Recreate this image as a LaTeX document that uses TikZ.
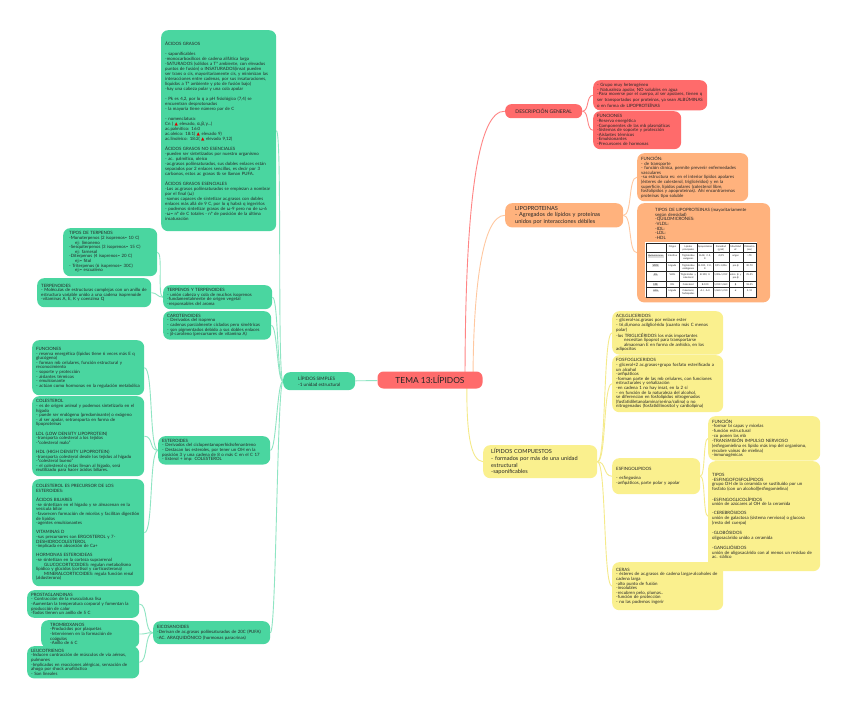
\documentclass[tikz,border=0pt]{standalone}
\usepackage{fontspec}
\setmainfont{Lato}
\newfontfamily\dejavu{DejaVu Sans}
\usepackage{xcolor}
\usepackage{array}
\usepackage{tikz}
\usetikzlibrary{positioning, backgrounds}

\definecolor{mapgreen}{HTML}{4AD6A0}
\definecolor{greenline}{HTML}{8FE5C3}
\definecolor{mapred}{HTML}{FF6B6B}
\definecolor{redline}{HTML}{FF8585}
\definecolor{maporange}{HTML}{FFB27D}
\definecolor{orangeline}{HTML}{FFC8A0}
\definecolor{mapyellow}{HTML}{FAF08E}
\definecolor{yellowline}{HTML}{F5EA8A}

\newcommand{\gk}[1]{{\dejavu #1}}
\newcommand{\tridelta}{{\dejavu\color{red!85!black}▲}}
\newcolumntype{C}[1]{>{\centering\arraybackslash}p{#1}}
\hyphenpenalty=10000

\begin{document}
\begin{tikzpicture}[
  x=1pt, y=-1pt,
  every node/.style={text=black!85},
  base/.style={
    rounded corners=7pt,
    anchor=north west,
    align=left,
    inner xsep=4pt,
    inner ysep=3pt,
    font=\fontsize{4.4}{4.6}\selectfont
  },
  gbox/.style={base, fill=mapgreen},
  rbox/.style={base, fill=mapred},
  obox/.style={base, fill=maporange},
  ybox/.style={base, fill=mapyellow},
  gline/.style={draw=greenline, line width=0.9pt},
  rline/.style={draw=redline, line width=0.9pt},
  oline/.style={draw=orangeline, line width=0.9pt},
  yline/.style={draw=yellowline, line width=0.9pt}
]
\useasboundingbox (0,0) rectangle (848,709);

% Central topic
\node[rbox, anchor=center, rounded corners=6pt, minimum width=105pt, minimum height=17pt,
  align=center, font=\fontsize{8.4}{9}\selectfont] (tema) at (430,380) {TEMA 13:LÍPIDOS};

% Left branch: simple lipids
\node[gbox, minimum width=72pt, minimum height=18pt, inner xsep=11pt,
  font=\fontsize{4.6}{5.6}\selectfont] (lsimples) at (283,372)
{LÍPIDOS SIMPLES\\-1 unidad estructural};

\node[gbox, text width=107pt, minimum height=201pt, font=\fontsize{4.4}{5.0}\selectfont] (acidos) at (161,30) {%
ÁCIDOS GRASOS\\[5pt]
- saponificables\\
-monocarboxílicos de cadena alifática larga\\
-SATURADOS (sólidos a Tª ambiente, con elevados puntos de fusión) o INSATURADOS(insat pueden ser trans o cis, mayoritariamente cis, y minimizan las interacciones entre cadenas, por sus insaturaciones, líquidos a Tª ambiente y pto de fusión bajo)\\
-hay una cabeza polar y una cola apolar\\[5pt]
- Pk es 4,2, por lo q a pH fisiológico (7,4) se encuentran desprotonados\\
- la mayoría tiene número par de C\\[5pt]
- nomenclatura:\\
Cn ( \tridelta{} elevado, \gk{α,β,γ}...)\\
ac.palmítico: 16:0\\
ac.oleico: 18:1( \tridelta{} elevado 9)\\
ac.linoleico: 18:2( \tridelta{} elevado 9,12)\\[5pt]
ÁCIDOS GRASOS NO ESENCIALES\\
-pueden ser sintetizados por nuestro organismo\\
- ac. palmítico, oleico\\
-ac.grasos poliinsaturados, sus dobles enlaces están separados por 2 enlaces sencillos, es decir por 3 carbonos, estos ac grasos tb se llaman PUFA.\\[5pt]
ÁCIDOS GRASOS ESENCIALES\\
-Los ac.grasos poliinsaturados se empiezan a nombrar por el final (\gk{ω})\\
-somos capaces de sintetizar ac.grasos con dobles enlaces más allá de 9 C, por lo q habrá q ingerirlos\\
- podemos sintetizar grasos de \gk{ω}-9 pero no de \gk{ω}-6\\
-\gk{ω}= nº de C totales - nº de posición de la última insaturación};

\node[gbox, text width=101pt, minimum height=24pt] (terpenos) at (163,285)
{TERPENOS Y TERPENOIDES\\
- unión cabeza y cola de muchos isoprenos\\
-fundamentalmente de origen vegetal\\
-responsables del aroma};

\node[gbox, text width=100pt, minimum height=28pt] (carotenoides) at (163,311)
{CAROTENOIDES\\
- Derivados del isopreno\\
- cadenas parcialmente ciclados pero simétricas\\
- son pigmentados debido a sus dobles enlaces\\
- \gk{β}-caroteno (precursores de vitamina A)};

\node[gbox, text width=104pt, minimum height=28pt] (esteroides) at (158,436)
{ESTEROIDES\\
- Derivados del ciclopentanoperhidrofenantreno\\
- Destacan los esteroles, por tener un OH en la posición 3 y una cadena de 8 o más C en el C 17\\
- Esterol + imp: COLESTEROL};

\node[gbox, text width=109pt, minimum height=23pt] (eicosanoides) at (153,621)
{EICOSANOIDES\\
-Derivan de ac.grasos poliinsaturados de 20C (PUFA)\\
-AC. ARAQUIDÓNICO (hormonas paracrinas)};

% Terpenes
\node[gbox, text width=82pt, minimum height=48pt, inner xsep=6pt] (tiposterp) at (63,228)
{TIPOS DE TERPENOS\\
-Monoterpenos (2 isoprenos= 10 C)\\
\hspace*{6pt}ej: limoneno\\
-Sesquiterpenos (3 isoprenos= 15 C)\\
\hspace*{6pt}ej: farnesol\\
-Diterpenos (4 isoprenos= 20 C)\\
\hspace*{6pt}ej:= fitol\\
- Triterpenos (6 isoprenos= 30C)\\
\hspace*{6pt}ej:= escualeno};

\node[gbox, text width=106pt, minimum height=29pt] (terpenoides) at (37,278)
{TERPENOIDES\\
- Moléculas de estructuras complejas con un anillo de estructura variable unido a una cadena isoprenoide\\
-vitaminas A, E, K y coenzima Q};

% Steroids
\node[gbox, text width=104pt, minimum height=55pt] (funciones) at (32,340)
{FUNCIONES\\
- reserva energética (lípidos tiene 6 veces más E q glucógeno)\\
- forman mb celulares, función estructural y reconocimiento\\
- soporte y protección\\
- aislantes térmicos\\
- emulsionante\\
- actúan como hormonas en la regulación metabólica};

\node[gbox, text width=104pt, minimum height=80pt] (colesterol) at (32,396)
{COLESTEROL\\
- es de origen animal y podemos sintetizarlo en el hígado\\
- puede ser endógeno (predominante) o exógeno\\
- al ser apolar, setransporta en forma de lipoproteínas\\[4.6pt]
LDL (LOW DENSITY LIPOPROTEIN)\\
-transporta colesterol a los tejidos\\
-“colesterol malo”\\[4.6pt]
HDL (HIGH DENSITY LIPOPROTEIN)\\
-transporta colesterol desde los tejidos al hígado\\
-“colesterol bueno”\\
- el colesterol q éstas llevan al hígado, será reutilizado para hacer ácidos biliares.};

\node[gbox, text width=104pt, minimum height=107pt] (precursor) at (32,479)
{COLESTEROL ES PRECURSOR DE LOS ESTEROIDES:\\[4.6pt]
ÁCIDOS BILIARES\\
-se sintetizan en el hígado y se almacenan en la vesícula biliar\\
-favorecen formación de micelas y facilitan digestión de lípidos\\
-agentes emulsionantes\\[4.6pt]
VITAMINAS D\\
-sus precursores son ERGOSTEROL y 7-DESHIDROCOLESTEROL\\
-implicada en absorción de Ca+\\[4.6pt]
HORMONAS ESTEROIDEAS\\
-se sintetizan en la corteza suprarrenal\\
\hspace*{8pt}GLUCOCORTICOIDES: regulan metabolismo lipídico y glúcidos (cortisol y corticosterona)\\
\hspace*{8pt}MINERALCORTICOIDES: regula función renal (aldosterona)};

% Eicosanoids
\node[gbox, text width=104pt, minimum height=27pt] (prosta) at (27,590)
{PROSTAGLANDINAS\\
- Contracción de la musculatura lisa\\
-Aumentan la temperatura corporal y fomentan la producción de calor\\
-Todos tienen un anillo de 5 C};

\node[gbox, text width=80pt, minimum height=23pt, inner xsep=9pt] (trombo) at (41,620)
{TROMBOXANOS\\
-Producidos por plaquetas\\
-Intervienen en la formación de coágulos\\
-Anillo de 6 C};

\node[gbox, text width=104pt, minimum height=31pt] (leuco) at (27,646)
{LEUCOTRIENOS\\
-Inducen contracción de músculos de vía aéreas, pulmones\\
-Implicados en reacciones alérgicas, sensación de ahogo por shock anafiláctico\\
- Son lineales};

% Right branch: general description
\node[rbox, rounded corners=6pt, minimum width=77pt, minimum height=14pt, align=center,
  font=\fontsize{5}{6}\selectfont] (descgen) at (505,104) {DESCRIPCIÓN GENERAL};

\node[rbox, text width=106pt, minimum height=29pt] (dbox) at (593,80)
{- Grupo muy heterogéneo\\
- Naturaleza apolar, NO solubles en agua\\
-Para moverse por el cuerpo, al ser apolares, tienen q ser transportados por proteínas, ya sean ALBÚMINAS o en forma de LIPOPROTEÍNAS};

\node[rbox, text width=80pt, minimum height=38pt] (dfunc) at (593,111)
{FUNCIONES\\
-Reserva energética\\
-Componentes de las mb plasmáticas\\
-Sistemas de soporte y protección\\
-Aislantes térmicos\\
-Emulsionantes\\
-Precursores de hormonas};

% Right branch: lipoproteins
\node[obox, text width=98pt, minimum height=24pt, inner xsep=10pt,
  font=\fontsize{5.6}{6.6}\selectfont] (lipoprot) at (505,203)
{LIPOPROTEINAS\\
- Agregados de lípidos y proteínas unidos por interacciones débiles};

\node[obox, text width=103pt, minimum height=48pt] (lpfunc) at (637,153)
{FUNCIÓN:\\
- de transporte\\
- función clínica, permite prevenir enfermedades vasculares\\
-su estructura es: en el interior lípidos apolares (ésteres de colesterol, triglicéridos) y en la superficie, lípidos polares (colesterol libre, fosfolípidos y apoproteínas). Ahí encontraremos proteínas tipo soluble};

\node[obox, text width=117pt, inner xsep=8pt, inner ysep=5pt] (lptipos) at (637,203)
{\hspace*{10pt}TIPOS DE LIPOPROTEINAS (mayoritariamente\\
\hspace*{10pt}según densidad)\\
\hspace*{10pt}-QUILOMICRONES:\\
\hspace*{10pt}-VLDL:\\
\hspace*{10pt}-IDL:\\
\hspace*{10pt}-LDL:\\
\hspace*{10pt}-HDL\\[2pt]
{\fontsize{2.4}{2.9}\selectfont\setlength{\tabcolsep}{0.8pt}\setlength{\arrayrulewidth}{0.2pt}\setlength{\fboxsep}{0.5pt}\renewcommand{\arraystretch}{2.2}%
\colorbox{white}{\begin{tabular}{|C{18pt}|C{12pt}|C{16pt}|C{14pt}|C{14pt}|C{12pt}|C{12pt}|}
\hline
 & Origen & Lípidos principales & Apoproteínas & Densidad (g/ml) & Movilidad ef. & Diámetro (nm)\\ \hline
\colorbox{black!12}{Quilomicrones} & Intestino & Triglicéridos exógenos & B-48, C-II, E & {<}0,95 & origen & {>}70\\ \hline
\colorbox{black!12}{VLDL} & Hígado & Triglicéridos endógenos & B-100, C-II, E & 0,95-1,006 & pre-\gk{β} & 30-70\\ \hline
\colorbox{black!12}{IDL} & VLDL & Triglicéridos y colesterol & B-100, E & 1,006-1,019 & entre \gk{β} y pre-\gk{β} & 25-35\\ \hline
\colorbox{black!12}{LDL} & IDL & Colesterol & B-100 & 1,019-1,063 & \gk{β} & 18-25\\ \hline
\colorbox{black!12}{HDL} & Hígado & Colesterol, fosfolípidos & A-I, A-II & 1,063-1,210 & \gk{α} & 5-12\\ \hline
\end{tabular}}}};

% Right branch: compound lipids
\node[ybox, text width=98pt, minimum height=33pt, inner xsep=8pt,
  font=\fontsize{5.6}{6.6}\selectfont] (lcomp) at (483,445)
{LÍPIDOS COMPUESTOS\\
- formados por más de una unidad estructural\\
-saponificables};

\node[ybox, text width=103pt, minimum height=42pt] (acil) at (612,311)
{ACILGLICERIDOS\\
- glicerol+ac.grasos por enlace ester\\
- tri,di,mono acilglicérido (cuanto más C menos polar)\\
-los TRIGLICÉRIDOS los más importantes\\
\hspace*{8pt}necesitan lipoprot para transportarse\\
\hspace*{8pt}almacenan E en forma de anhidra, en los adipocitos};

\node[ybox, text width=103pt, minimum height=57pt] (fosfo) at (612,355)
{FOSFOGLICERIDOS\\
- glicerol+2 ac.grasos+grupo fosfato esterificado a un alcohol\\
-anfipáticos\\
-forman parte de las mb celulares, con funciones estructurales y señalización\\
-en cadena 1 no hay insat, en la 2 sí\\
- en función de la naturaleza del alcohol, se diferencian en fosfolípidos nitrogenados (fosfatidiletanolamina/serina/colina) o no nitrogenados (fosfatidilinositol y cardiolipina)};

\node[ybox, text width=80pt, minimum height=36pt] (esfingo) at (612,458)
{ESFINGOLIPIDOS\\[4.6pt]
- esfingosina\\
-anfipáticos, parte polar y apolar};

\node[ybox, text width=104pt, minimum height=44pt] (efunc) at (708,416)
{FUNCIÓN\\
-formar bi capas y micelas\\
-función estructural\\
-co ponen las mb\\
-TRANSMISIÓN IMPULSO NERVIOSO (esfingomielina es lípido más imp del organismo, recubre vainas de mielina)\\
-inmunogénicas};

\node[ybox, text width=104pt, minimum height=110pt] (etipos) at (708,461)
{TIPOS\\
-ESFINGOFOSFOLÍPIDOS\\
grupo OH de la ceramida se sustituido por un fosfato (con un alcohol)(esfingomielina)\\[4.6pt]
-ESFINGOGLICOLÍPIDOS\\
unión de azúcares al OH de la ceramida\\[4.6pt]
-CEREBRÓSIDOS\\
unión de galactosa (sistema nervioso) o glucosa (resto del cuerpo)\\[4.6pt]
-GLOBÓSIDOS\\
oligosacárido unido a ceramida\\[4.6pt]
-GANGLIÓSIDOS\\
unión de oligosacárido con al menos un residuo de ac. siálico};

\node[ybox, text width=103pt, minimum height=48pt] (ceras) at (612,562)
{CERAS\\
- ésteres de ac.grasos de cadena larga+alcoholes de cadena larga\\
-alto punto de fusión\\
-insolubles\\
-recubren pelo, plumas..\\
-función de protección\\
- no las podemos ingerir};

% Hubs behind the central topic
\coordinate (rhub) at (465,384);
\coordinate (ohub) at (473,384);
\coordinate (yhub) at (467,378);

% Connectors
\begin{scope}[on background layer]
\fill[white] (0,0) rectangle (848,709);

\draw[gline] (tema) -- (lsimples);
\draw[gline] (lsimples.west) .. controls +(-6,0) and +(6,0) .. (acidos.east);
\draw[gline] (lsimples.west) .. controls +(-6,0) and +(6,0) .. (terpenos.east);
\draw[gline] (lsimples.west) .. controls +(-6,0) and +(6,0) .. (carotenoides.east);
\draw[gline] (lsimples.west) .. controls +(-6,0) and +(6,0) .. (esteroides.east);
\draw[gline] (lsimples.west) .. controls +(-6,0) and +(6,0) .. (eicosanoides.east);

\draw[gline] (terpenos.west) .. controls +(-6,0) and +(6,0) .. (tiposterp.east);
\draw[gline] (terpenos.west) .. controls +(-6,0) and +(6,0) .. (terpenoides.east);

\draw[gline] (esteroides.west) .. controls +(-9,0) and +(9,0) .. (funciones.east);
\draw[gline] (esteroides.west) .. controls +(-9,0) and +(9,0) .. (colesterol.east);
\draw[gline] (esteroides.west) .. controls +(-9,0) and +(9,0) .. (precursor.east);

\draw[gline] (eicosanoides.west) .. controls +(-9,0) and +(9,0) .. (prosta.east);
\draw[gline] (eicosanoides.west) .. controls +(-9,0) and +(9,0) .. (trombo.east);
\draw[gline] (eicosanoides.west) .. controls +(-9,0) and +(9,0) .. (leuco.east);

\draw[rline] (rhub) .. controls (465,200) and (478,110) .. (descgen.west);
\draw[rline] (descgen.east) .. controls +(7,0) and +(-7,0) .. (dbox.west);
\draw[rline] (descgen.east) .. controls +(7,0) and +(-7,0) .. (dfunc.west);

\draw[oline] (ohub) .. controls (473,290) and (482,215) .. (lipoprot.west);
\draw[oline] (lipoprot.east) .. controls +(9,0) and +(-9,0) .. (lpfunc.west);
\draw[oline] (lipoprot.east) .. controls +(9,0) and +(-9,0) .. (lptipos.west);

\draw[yline] (yhub) .. controls (466,430) and (470,461) .. (lcomp.west);
\draw[yline] (lcomp.east) .. controls +(9,0) and +(-9,0) .. (acil.west);
\draw[yline] (lcomp.east) .. controls +(9,0) and +(-9,0) .. (fosfo.west);
\draw[yline] (lcomp.east) .. controls +(9,0) and +(-9,0) .. (esfingo.west);
\draw[yline] (lcomp.east) .. controls +(9,0) and +(-9,0) .. (ceras.west);
\draw[yline] (esfingo.east) .. controls +(5,0) and +(-5,0) .. (efunc.west);
\draw[yline] (esfingo.east) .. controls +(5,0) and +(-5,0) .. (etipos.west);
\end{scope}

\end{tikzpicture}
\end{document}
